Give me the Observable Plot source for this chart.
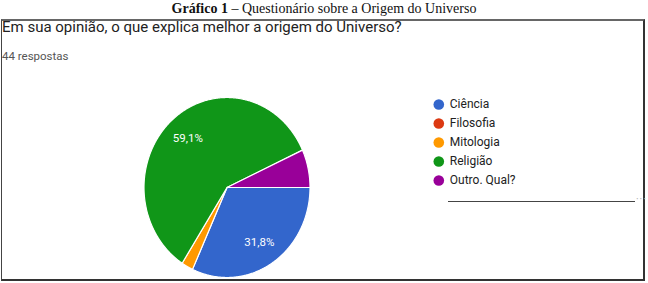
<!DOCTYPE html>
<html>
<head>
<meta charset="utf-8">
<script src="https://cdn.jsdelivr.net/npm/d3@7"></script>
<script src="https://cdn.jsdelivr.net/npm/@observablehq/plot@0.6"></script>
<style>
  html, body { margin: 0; padding: 0; background: #fff; }
  body { width: 648px; height: 283px; position: relative; overflow: hidden; font-family: Roboto, "Liberation Sans", sans-serif; }
  #caption { position: absolute; left: 0; top: 1px; width: 648px; text-align: center; font-family: "Liberation Serif", "DejaVu Serif", serif; font-size: 14px; line-height: 16px; color: #111; }
  #box { position: absolute; left: 1px; top: 19px; width: 641px; height: 258px; border-left: 1px solid #444; border-top: 2px solid #666; border-right: 2px solid #333; border-bottom: 2px solid #333; }
  #question { position: absolute; left: 2px; top: 18px; font-size: 15px; color: #222; white-space: nowrap; }
  #count { position: absolute; left: 2px; top: 49px; font-size: 11.5px; color: #555; white-space: nowrap; }
  #pie { position: absolute; left: 0; top: 0; }
  #legend { position: absolute; left: 428px; top: 93px; }
  #other-line { position: absolute; left: 448px; top: 201px; width: 187px; border-top: 1px solid #444; }
  #other-dots { position: absolute; left: 636px; top: 194px; font-size: 10px; color: #aaa; letter-spacing: 1px; }
</style>
</head>
<body>
<div id="caption"><b>Gráfico 1</b> – Questionário sobre a Origem do Universo</div>
<div id="box"></div>
<div id="question">Em sua opinião, o que explica melhor a origem do Universo?</div>
<div id="count">44 respostas</div>
<div id="pie"></div>
<div id="legend"></div>
<div id="other-line"></div>
<div id="other-dots">···</div>
<script>
// Data
const categories = ["Ciência", "Filosofia", "Mitologia", "Religião", "Outro. Qual?"];
const counts = [14, 0, 1, 26, 3];
const colors = ["#3366cc", "#dc3912", "#ff9900", "#109618", "#990099"];

const total = d3.sum(counts);
const rows = categories.map((c, i) => ({category: c, value: counts[i]}));

// Pie geometry from d3.pie (start at 3 o'clock, clockwise)
const arcs = d3.pie().sort(null).value(d => d.value)
  .startAngle(Math.PI / 2).endAngle(Math.PI / 2 + 2 * Math.PI)(rows)
  .filter(a => a.data.value > 0);

const pts = [];
for (const a of arcs) {
  const n = Math.max(2, Math.ceil((a.endAngle - a.startAngle) / (Math.PI / 360)));
  pts.push({category: a.data.category, x: 0, y: 0});
  for (let k = 0; k <= n; k++) {
    const t = a.startAngle + (a.endAngle - a.startAngle) * k / n;
    pts.push({category: a.data.category, x: Math.sin(t), y: Math.cos(t)});
  }
  pts.push({category: a.data.category, x: 0, y: 0});
}

const labels = arcs.filter(a => a.data.value / total >= 0.1).map(a => {
  const m = (a.startAngle + a.endAngle) / 2;
  return {
    x: 0.72 * Math.sin(m), y: 0.72 * Math.cos(m),
    text: (a.data.value / total * 100).toFixed(1).replace(".", ",") + "%"
  };
});

const color = {domain: categories, range: colors};

const pie = Plot.plot({
  width: 648, height: 283,
  marginLeft: 143.5, marginRight: 338.5, marginTop: 97, marginBottom: 6,
  x: {domain: [-1, 1], axis: null},
  y: {domain: [-1, 1], axis: null},
  color,
  style: {background: "transparent", overflow: "visible"},
  marks: [
    Plot.line(pts, {x: "x", y: "y", z: "category", fill: "category", stroke: "white", strokeWidth: 1.2, strokeLinejoin: "round", curve: "linear"}),
    Plot.text(labels, {x: "x", y: "y", text: "text", fill: "white", fontSize: 11.5, fontFamily: "Roboto, sans-serif"})
  ]
});
document.getElementById("pie").append(pie);

const legend = Plot.plot({
  width: 210, height: 100,
  margin: 0,
  x: {domain: [0, 1], range: [10.3, 200], axis: null},
  y: {type: "point", domain: categories, range: [10.3, 87.7], padding: 0, axis: null},
  color,
  style: {background: "transparent", overflow: "visible"},
  marks: [
    Plot.dot(categories, {x: () => 0, y: d => d, fill: d => d, r: 5.3, stroke: null}),
    Plot.text(categories, {x: () => 0, y: d => d, text: d => d, dx: 11, textAnchor: "start", fontSize: 12, fill: "#222", fontFamily: "Roboto, sans-serif"})
  ]
});
document.getElementById("legend").append(legend);
</script>
</body>
</html>
